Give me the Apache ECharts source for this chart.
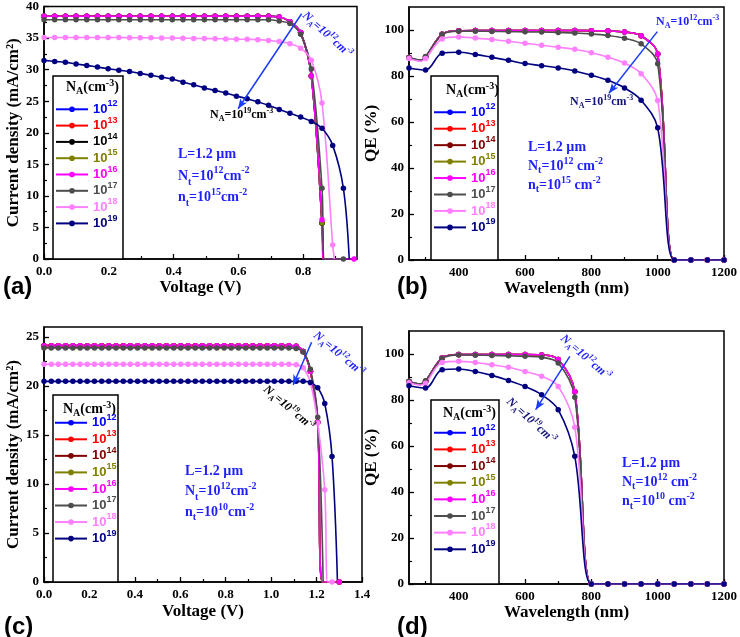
<!DOCTYPE html>
<html><head><meta charset="utf-8">
<script src="https://cdn.jsdelivr.net/npm/echarts@6/dist/echarts.min.js"></script>
<style>html,body{margin:0;padding:0;background:#fff}#c{width:740px;height:637px}</style>
</head><body><div id="c"></div>
<script>
// ---------------- data ----------------
const exps = ['12','13','14','15','16','17','18','19'];
const colorsA = ['#0000ff','#ff0000','#000000','#808000','#ff00ff','#4d4d4d','#ff80ff','#000080'];
const colorsB = ['#0000ff','#ff0000','#800000','#808000','#ff00ff','#4d4d4d','#ff80ff','#000080'];

// (a) J-V, n_t = 1e15
const aV = [0,0.033,0.066,0.099,0.132,0.165,0.198,0.231,0.264,0.297,0.33,0.363,0.396,0.429,0.462,0.495,0.528,0.561,0.594,0.627,0.66,0.693,0.726,0.759,0.792,0.825,0.858,0.891,0.924,0.957];
const aJ_12to15 = [38.45,38.45,38.45,38.45,38.45,38.45,38.45,38.45,38.45,38.45,38.45,38.45,38.45,38.45,38.45,38.45,38.45,38.45,38.45,38.45,38.45,38.45,38.35,37.6,35.9,29.0,5.7];
const aJ_16 = [38.45,38.45,38.45,38.45,38.45,38.45,38.45,38.45,38.45,38.45,38.45,38.45,38.45,38.45,38.45,38.45,38.45,38.45,38.45,38.45,38.45,38.45,38.35,37.6,35.9,29.0,6.2,null,null,0];
const aJ_17 = [37.9,37.9,37.9,37.9,37.9,37.9,37.9,37.9,37.9,37.9,37.9,37.9,37.9,37.9,37.9,37.9,37.9,37.9,37.9,37.9,37.9,37.9,37.7,37.3,35.6,30.1,11.2,null,0];
const aJ_18 = [35.1,35.1,35.1,35.1,35.1,35.1,35.1,35.08,35.06,35.05,35.03,35.0,35.0,34.98,34.95,34.93,34.9,34.87,34.83,34.8,34.75,34.62,34.45,34.1,33.4,31.5,24.7,2.2];
const aJ_19 = [31.46,31.3,31.15,30.9,30.67,30.4,30.15,29.9,29.7,29.4,29.1,28.8,28.5,28.0,27.6,27.1,26.7,26.3,25.8,25.4,24.9,24.35,23.7,23.1,22.5,21.8,20.7,18.0,11.2];
const aVocTop = [[0.861,0]];
const aVoc17 = [[0.866,0]];
const aVoc18 = [[0.896,0]];
const aVoc19 = [[0.942,0]];

// (b) QE, n_t = 1e15
const qeX = [250,300,350,400,450,500,550,600,650,700,750,800,850,900,950,1000,1050,1100,1150,1200];
const bQ_top = [88.0,88.3,98.2,99.7,99.8,99.8,99.8,99.8,99.8,99.8,99.8,99.7,99.6,99.1,97.5,89.6,0,0,0,0];
const bQ_17  = [88.0,88.5,98.0,99.5,99.5,99.4,99.3,99.2,99.1,98.9,98.7,98.3,97.6,96.4,94.0,85.3,0,0,0,0];
const bQ_18  = [87.6,87.6,96.1,97.0,96.5,95.9,95.1,94.2,93.4,92.5,91.6,90.1,88.2,85.6,81.0,69.3,0,0,0,0];
const bQ_19  = [83.5,82.6,89.9,90.3,89.4,88.1,86.8,85.4,84.5,83.5,82.2,80.3,78.1,74.8,69.5,57.5,0,0,0,0];
const bDipTop = [[285,86.7]];
const bDip17 = [[285,86.9]];
const bDip18 = [[285,86.4]];

// (c) J-V, n_t = 1e10
const cV = [0,0.032,0.063,0.095,0.127,0.159,0.19,0.222,0.254,0.285,0.317,0.349,0.38,0.412,0.444,0.476,0.507,0.539,0.571,0.602,0.634,0.666,0.697,0.729,0.761,0.793,0.824,0.856,0.888,0.919,0.951,0.983,1.014,1.046,1.078,1.11,1.141,1.173,1.205,1.236,1.268,1.3];
const cJ_top = [24.1,24.1,24.1,24.1,24.1,24.1,24.1,24.1,24.1,24.1,24.1,24.1,24.1,24.1,24.1,24.1,24.1,24.1,24.1,24.1,24.1,24.1,24.1,24.1,24.1,24.1,24.1,24.1,24.1,24.1,24.1,24.1,24.1,24.1,24.1,24.05,23.5,21.5,16.3,null,null,0];
const cJ_17 = [23.87,23.87,23.87,23.87,23.87,23.87,23.87,23.87,23.87,23.87,23.87,23.87,23.87,23.87,23.87,23.87,23.87,23.87,23.87,23.87,23.87,23.87,23.87,23.87,23.87,23.87,23.87,23.87,23.87,23.87,23.87,23.87,23.87,23.87,23.87,23.8,23.45,21.7,16.8];
const cJ_18 = [22.2,22.2,22.2,22.2,22.2,22.2,22.2,22.2,22.2,22.2,22.2,22.2,22.2,22.2,22.2,22.2,22.2,22.2,22.2,22.2,22.2,22.2,22.2,22.2,22.2,22.2,22.2,22.2,22.2,22.2,22.2,22.2,22.2,22.2,22.2,22.15,21.85,20.3,16.2,9.4,0];
const cJ_19 = [20.46,20.46,20.46,20.46,20.46,20.46,20.46,20.46,20.46,20.46,20.46,20.46,20.46,20.46,20.46,20.46,20.46,20.46,20.46,20.46,20.46,20.46,20.46,20.46,20.46,20.46,20.46,20.46,20.46,20.46,20.46,20.46,20.46,20.46,20.46,20.46,20.46,20.35,19.8,18.2,12.8];
const cVocTop = [[1.226,0]];
const cVoc17 = [[1.229,0]];
const cVoc18 = [[1.249,0]];
const cVoc19 = [[1.292,0]];

// (d) QE, n_t = 1e10
const dQ_top = [88.0,88.2,98.3,99.8,99.8,99.8,99.8,99.8,99.6,97.6,83.6,0,0,0,0,0,0,0,0,0];
const dQ_17  = [88.2,88.4,98.0,99.6,99.5,99.4,99.2,99.0,98.6,96.1,81.2,0,0,0,0,0,0,0,0,0];
const dQ_18  = [87.5,87.3,96.3,96.8,96.3,95.3,94.2,92.4,90.3,85.9,68.2,0,0,0,0,0,0,0,0,0];
const dQ_19  = [86.2,85.2,93.2,93.5,92.4,90.7,88.5,85.9,82.3,75.8,55.5,0,0,0,0,0,0,0,0,0];
const dDipTop = [[285,86.8]];
const dDip17 = [[285,87.0]];
const dDip18 = [[285,86.5]];

// axis ticks
const vMajorA = [0,0.2,0.4,0.6,0.8], vMinorA = [0.1,0.3,0.5,0.7,0.9];
const jMajorA = [0,5,10,15,20,25,30,35,40], jMinorA = [2.5,7.5,12.5,17.5,22.5,27.5,32.5,37.5];
const vMajorC = [0,0.2,0.4,0.6,0.8,1.0,1.2,1.4], vMinorC = [0.1,0.3,0.5,0.7,0.9,1.1,1.3];
const jMajorC = [0,5,10,15,20,25], jMinorC = [2.5,7.5,12.5,17.5,22.5];
const wlMajor = [400,600,800,1000,1200], wlMinor = [300,500,700,900,1100];
const qeMajor = [0,20,40,60,80,100], qeMinor = [10,30,50,70,90];

// arrows (data coordinates)
const arrowA = [[0.795,38.85],[0.599,23.8]];
const arrowB = [[999,99.3],[853,72.5]];
const arrowC = [[1.178,24.45],[1.097,20.1]];
const arrowD = [[735,99],[632,75.8]];

// ---------------- build ----------------
function pts(xs, ys, extra) {
  const out = [];
  for (let i = 0; i < ys.length; i++) if (ys[i] != null) out.push({ value: [xs[i], ys[i]] });
  (extra || []).forEach(p => out.push({ value: [p[0], p[1]], symbol: 'none' }));
  out.sort((a, b) => a.value[0] - b.value[0]);
  return out;
}

const SERIF = 'Liberation Serif', SANS = 'Liberation Sans';

const panels = [
  { key:'a', grid:{left:44, top:6, width:313, height:253}, colors: colorsA,
    x:{min:0, max:0.966, major:vMajorA, minor:vMinorA, dec:1, name:'Voltage (V)', gap:20},
    y:{min:0, max:40, major:jMajorA, minor:jMinorA, name:'Current density (mA/cm²)', gap:20},
    curves:[[aV,aJ_12to15,aVocTop],[aV,aJ_12to15,aVocTop],[aV,aJ_12to15,aVocTop],[aV,aJ_12to15,aVocTop],[aV,aJ_16,aVocTop],[aV,aJ_17,aVoc17],[aV,aJ_18,aVoc18],[aV,aJ_19,aVoc19]],
    arrow: arrowA, legend:{left:55, top:99.5, lh:19.6} },
  { key:'b', grid:{left:409, top:7, width:316, height:253}, colors: colorsB,
    x:{min:250, max:1200, major:wlMajor, minor:wlMinor, dec:0, name:'Wavelength (nm)', gap:16},
    y:{min:0, max:110, major:qeMajor, minor:qeMinor, name:'QE (%)', gap:21},
    curves:[[qeX,bQ_top,bDipTop],[qeX,bQ_top,bDipTop],[qeX,bQ_top,bDipTop],[qeX,bQ_top,bDipTop],[qeX,bQ_top,bDipTop],[qeX,bQ_17,bDip17],[qeX,bQ_18,bDip18],[qeX,bQ_19,null]],
    arrow: arrowB, legend:{left:433, top:102.3, lh:19.9} },
  { key:'c', grid:{left:44, top:327, width:318, height:255}, colors: colorsB,
    x:{min:0, max:1.4, major:vMajorC, minor:vMinorC, dec:1, name:'Voltage (V)', gap:21},
    y:{min:0, max:26, major:jMajorC, minor:jMinorC, name:'Current density (mA/cm²)', gap:20},
    curves:[[cV,cJ_top,cVocTop],[cV,cJ_top,cVocTop],[cV,cJ_top,cVocTop],[cV,cJ_top,cVocTop],[cV,cJ_top,cVocTop],[cV,cJ_17,cVoc17],[cV,cJ_18,cVoc18],[cV,cJ_19,cVoc19]],
    arrow: arrowC, legend:{left:54, top:412.7, lh:20.1} },
  { key:'d', grid:{left:409, top:331, width:316, height:253}, colors: colorsB,
    x:{min:250, max:1200, major:wlMajor, minor:wlMinor, dec:0, name:'Wavelength (nm)', gap:19},
    y:{min:0, max:110, major:qeMajor, minor:qeMinor, name:'QE (%)', gap:21},
    curves:[[qeX,dQ_top,dDipTop],[qeX,dQ_top,dDipTop],[qeX,dQ_top,dDipTop],[qeX,dQ_top,dDipTop],[qeX,dQ_top,dDipTop],[qeX,dQ_17,dDip17],[qeX,dQ_18,dDip18],[qeX,dQ_19,null]],
    arrow: arrowD, legend:{left:433, top:422.6, lh:20.3} }
];

const labelFont = {fontFamily:SERIF, fontWeight:'bold', fontSize:13, color:'#000'};
const nameFont = {fontFamily:SERIF, fontWeight:'bold', fontSize:17, color:'#000'};
const grids = [], xAxes = [], yAxes = [], series = [], legends = [];

panels.forEach((p, pi) => {
  grids.push(Object.assign({show:true, borderColor:'#000', borderWidth:1.5, backgroundColor:'transparent'}, p.grid));
  const dec = p.x.dec;
  xAxes.push({type:'value', gridIndex:pi, position:'bottom', min:p.x.min, max:p.x.max,
    axisLine:{show:true, onZero:false, lineStyle:{color:'#000', width:1.5}},
    axisTick:{show:true, inside:true, length:5, customValues:p.x.major, lineStyle:{color:'#000', width:1.3}},
    axisLabel:Object.assign({customValues:p.x.major, margin:6, formatter:v => dec ? v.toFixed(dec) : String(v)}, labelFont),
    splitLine:{show:false}, name:p.x.name, nameLocation:'middle', nameGap:p.x.gap, nameTextStyle:nameFont});
  xAxes.push({type:'value', gridIndex:pi, position:'bottom', min:p.x.min, max:p.x.max,
    axisLine:{show:false, onZero:false}, axisLabel:{show:false}, splitLine:{show:false},
    axisTick:{show:true, inside:true, length:3, customValues:p.x.minor, lineStyle:{color:'#000', width:1.2}}});
  yAxes.push({type:'value', gridIndex:pi, position:'left', min:p.y.min, max:p.y.max,
    axisLine:{show:true, onZero:false, lineStyle:{color:'#000', width:1.5}},
    axisTick:{show:true, inside:true, length:5, customValues:p.y.major, lineStyle:{color:'#000', width:1.3}},
    axisLabel:Object.assign({customValues:p.y.major, margin:5}, labelFont),
    splitLine:{show:false}, name:p.y.name, nameLocation:'middle', nameGap:p.y.gap, nameTextStyle:nameFont});
  yAxes.push({type:'value', gridIndex:pi, position:'left', min:p.y.min, max:p.y.max,
    axisLine:{show:false, onZero:false}, axisLabel:{show:false}, splitLine:{show:false},
    axisTick:{show:true, inside:true, length:3, customValues:p.y.minor, lineStyle:{color:'#000', width:1.2}}});

  p.curves.forEach((cv, i) => {
    const c = p.colors[i];
    const s = {type:'line', name:p.key + exps[i], xAxisIndex:2*pi, yAxisIndex:2*pi,
      data:pts(cv[0], cv[1], cv[2]), smooth:0.35, symbol:'circle', symbolSize:5.5, showSymbol:true,
      color:c, lineStyle:{width:1.6, color:c}, itemStyle:{color:c}, z:2, clip:true,
      animation:false, emphasis:{disabled:true}, silent:true};
    if (i === 7) {
      s.markLine = {silent:true, animation:false, symbol:['none','arrow'], symbolSize:[6,10],
        label:{show:false}, lineStyle:{color:'#1a3cff', width:1.5, type:'solid'},
        emphasis:{disabled:true},
        data:[[{coord:p.arrow[0]},{coord:p.arrow[1]}]]};
    }
    series.push(s);
  });

  const rich = {};
  p.colors.forEach((c, i) => {
    rich['n'+i] = {fontSize:13, fontWeight:'bold', fontFamily:SANS, color: i===6 ? '#ff80ff' : c, lineHeight:p.legend.lh};
    rich['s'+i] = {fontSize:9, fontWeight:'bold', fontFamily:SANS, color: c, lineHeight:11, verticalAlign:'top'};
  });
  legends.push({orient:'vertical', left:p.legend.left, top:p.legend.top, padding:0, itemGap:0,
    itemWidth:32, itemHeight:7, selectedMode:false, z:6,
    data: exps.map(e => p.key + e),
    formatter: name => { const e = name.slice(1); const i = exps.indexOf(e); return '{n'+i+'|10}{s'+i+'|'+e+'}'; },
    textStyle:{rich}});
});

// ---------------- annotations ----------------
function richT(size, color, italic, lh) {
  const fs = italic ? 'italic' : 'normal';
  const sm = Math.round(size * 0.68);
  return {
    b:{fontSize:size, fontWeight:'bold', fontFamily:SERIF, fontStyle:fs, fill:color, lineHeight:lh},
    sub:{fontSize:sm, fontWeight:'bold', fontFamily:SERIF, fontStyle:fs, fill:color, lineHeight:sm+2, verticalAlign:'bottom'},
    sup:{fontSize:sm, fontWeight:'bold', fontFamily:SERIF, fontStyle:fs, fill:color, lineHeight:sm+2, verticalAlign:'top'}
  };
}
function txt(x, y, text, size, color, o) {
  o = o || {};
  const lh = o.lh || Math.round(size * 1.3);
  const va = o.va || 'middle';
  return {type:'text', x:x, y:y, rotation:(o.rot || 0) * Math.PI / 180, z:5, silent:true,
    style:{text:text, rich:richT(size, color, o.italic, lh), fill:color, align:'left', verticalAlign:va,
      textAlign:'left', textVerticalAlign:va, fontSize:size, fontFamily:SERIF, fontWeight:'bold'}};
}
const BLUE = '#1f1fff', NAVY = '#141478';
const NA12 = '{b|N}{sub|A}{b|=10}{sup|12}{b|cm}{sup|-3}';
const NA19 = '{b|N}{sub|A}{b|=10}{sup|19}{b|cm}{sup|-3}';
const TITLE = '{b|N}{sub|A}{b|(cm}{sup|-3}{b|)}';
function info(nt, sp) {
  return '{b|L=1.2 µm}\n{b|N}{sub|t}{b|=10}{sup|12}{b|' + sp + 'cm}{sup|-2}\n{b|n}{sub|t}{b|=10}{sup|' + nt + '}{b|' + sp + 'cm}{sup|-2}';
}
function box(x, y, w, h) {
  return {type:'rect', z:3, silent:true, shape:{x:x, y:y, width:w, height:h}, style:{fill:'#fff', stroke:'#000', lineWidth:1.5}};
}
function letter(x, y, t) {
  return {type:'text', x:x, y:y, z:5, silent:true, style:{text:t, font:'bold 24px "Liberation Sans"', fill:'#000', align:'left', verticalAlign:'top', textAlign:'left', textVerticalAlign:'top'}};
}

const graphics = [
  box(53, 76, 70, 183), box(431, 76, 67, 184), box(53, 395, 65, 187), box(431, 400, 68, 184),
  txt(66, 87, TITLE, 14, '#000'), txt(446, 90, TITLE, 14, '#000'),
  txt(63, 409, TITLE, 14, '#000'), txt(443, 413, TITLE, 14, '#000'),
  txt(178, 144, info('15', ''), 14, BLUE, {lh:21.5, va:'top'}),
  txt(528, 137.5, info('15', ' '), 14, BLUE, {lh:19, va:'top'}),
  txt(185, 461, info('10', ''), 14, BLUE, {lh:20.5, va:'top'}),
  txt(622, 453.5, info('10', ' '), 14, BLUE, {lh:19.2, va:'top'}),
  txt(304, 14, NA12, 12, BLUE, {rot:-42, italic:true}),
  txt(210, 115, NA19, 12, '#000'),
  txt(656, 22, NA12, 12, BLUE),
  txt(570, 102, NA19, 12, NAVY),
  txt(315, 334, NA12, 12, BLUE, {rot:-40, italic:true}),
  txt(265, 388, NA19, 12, '#000', {rot:-40, italic:true}),
  txt(562, 337, NA12, 12, BLUE, {rot:-41, italic:true}),
  txt(508, 400, NA19, 12, NAVY, {rot:-42, italic:true}),
  letter(3, 275, '(a)'), letter(397, 275, '(b)'), letter(4, 615, '(c)'), letter(397, 615, '(d)')
];

const chart = echarts.init(document.getElementById('c'), null, {renderer:'canvas'});
chart.setOption({
  animation:false,
  backgroundColor:'#fff',
  grid:grids, xAxis:xAxes, yAxis:yAxes, series:series, legend:legends,
  graphic:{elements:graphics}
});
</script>
</body></html>
